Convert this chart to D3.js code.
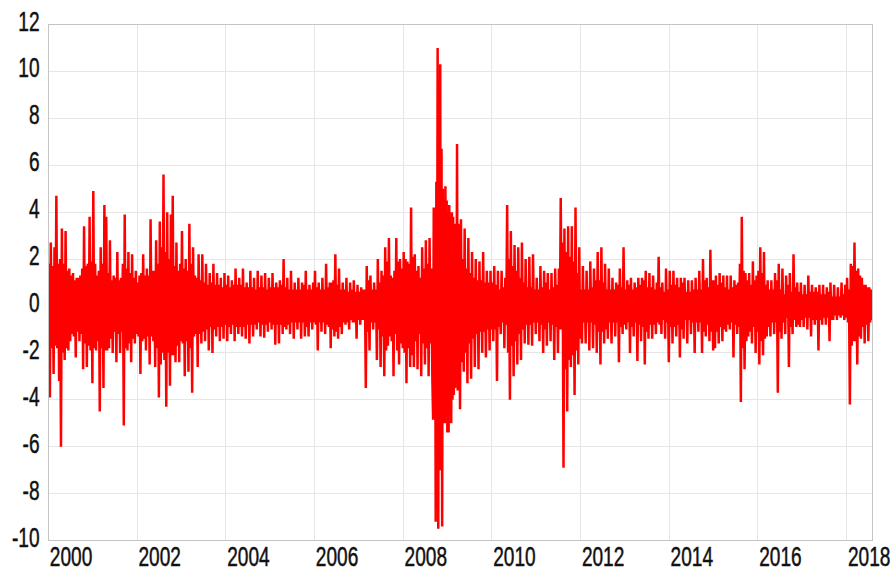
<!DOCTYPE html>
<html><head><meta charset="utf-8">
<script src="https://cdn.jsdelivr.net/npm/d3@7"></script>
<style>body{margin:0;background:#fff}svg{display:block}</style>
</head><body>
<svg id="chart" width="890" height="572"></svg>
<script>
// Tick labels
const yearTicks = [2000, 2002, 2004, 2006, 2008, 2010, 2012, 2014, 2016, 2018];
const valueTicks = [-10, -8, -6, -4, -2, 0, 2, 4, 6, 8, 10, 12];

// Daily returns: the spike (extreme) in each half-month, 24 per year
const r2000 = [-3.9, 2.7, -2.9, 2.5, 4.7, -3.2, -6.0, 3.3, -2.3, 3.2, -1.9, 1.6, -1.2, 1.4, -2.2, 1.2, -1.5, 1.3, -2.7, 3.4, -2.6, 1.8, 3.8, -3.3];
const r2001 = [4.9, -1.9, 1.3, -4.5, 2.5, -3.5, 4.3, 3.8, -1.8, 2.8, -2.0, 1.3, -2.4, 2.3, -2.0, 1.2, -5.1, 3.9, -1.9, 2.3, -2.4, 2.2, -1.6, 1.5];
const r2002 = [1.0, -2.9, -1.5, 2.2, -1.9, 1.6, -2.5, 3.7, 1.5, -2.6, 2.8, -3.9, 3.6, -2.0, 5.6, -4.3, 4.0, -3.4, 3.9, 4.7, -2.4, 2.7, -2.4, 1.8];
const r2003 = [3.2, -3.0, 2.0, -2.8, 3.5, -3.7, 2.5, -1.2, -2.6, 2.2, -1.6, 2.2, -1.5, 1.8, -1.9, 1.4, -2.0, 1.8, -1.3, 1.4, -1.5, 1.2, -1.4, 1.4];
const r2004 = [-1.5, 1.3, -1.2, 1.1, -1.5, 1.6, -1.2, 1.2, -1.3, 1.6, -1.4, 1.0, -1.6, 1.5, -1.3, 1.2, -1.0, 1.5, -1.3, 1.3, -1.35, 1.4, -1.1, 1.2];
const r2005 = [-1.0, 1.4, -1.65, 1.0, -1.6, 1.1, -1.2, 2.0, -1.0, 1.2, -1.2, 1.5, -1.4, 1.0, -1.0, 1.2, -1.4, 1.0, -1.3, 1.5, -1.3, 0.9, -1.0, 1.0];
const r2006 = [1.5, -1.9, 1.0, -1.1, 1.2, -1.2, 1.8, -0.9, -1.8, 1.0, -1.3, 2.2, -1.4, 1.6, -1.2, 1.0, -0.8, 1.2, -1.0, 1.0, -0.7, 1.1, -1.4, 0.9];
const r2007 = [-0.8, 0.8, -0.6, -3.5, 1.7, -1.9, 1.3, -1.0, 1.0, -2.3, 2.0, -2.6, 1.5, -3.0, 2.5, -1.7, 2.9, -1.5, -3.0, 1.5, 2.9, -2.5, 2.0, -1.8];
const r2008 = [2.3, -3.3, 1.9, -2.6, 4.2, -2.6, 2.2, -2.7, 1.7, -3.0, 2.5, -2.5, 2.8, -3.0, 2.9, -3.0, null, null, null, null, null, null, null, null];
const r2009 = [null, null, null, null, null, null, -4.4, 3.7, -2.8, 3.3, -3.3, 2.9, -3.1, 2.3, -2.6, 2.0, -2.7, 1.9, -2.0, 2.3, -2.2, 1.5, -1.9, 1.5];
const r2010 = [-1.5, 1.7, -3.2, 1.5, -1.2, 1.5, -1.8, 1.2, 4.3, -4.0, 3.2, -3.0, 2.6, -2.5, 2.5, -2.3, 2.7, -1.6, 2.0, -1.65, 2.1, -1.7, 2.2, -1.2];
const r2011 = [1.2, -1.5, 1.7, -2.0, 1.5, -1.7, 1.4, -1.5, 1.4, -2.3, 1.6, -2.0, 1.6, 4.6, -6.9, 3.3, -4.5, 3.4, -2.6, 3.4, -3.8, 4.2, -2.5, 2.5];
const r2012 = [-1.6, 1.7, -1.6, 1.5, -1.9, 1.9, -1.8, 1.6, -2.0, 2.3, -2.5, 2.5, -1.6, 1.8, -1.4, 1.6, -1.6, 1.2, -1.3, 1.0, -2.4, 1.6, -1.2, 2.5];
const r2013 = [-1.0, 1.1, -2.0, 1.2, -1.3, 1.0, -2.35, 1.2, -1.5, 1.2, -2.5, 1.5, -1.4, 1.4, -1.4, 1.3, -1.2, 1.0, 2.1, -1.2, 1.0, -1.4, 1.6, -2.4];
const r2014 = [1.5, -1.6, 1.5, -1.3, 1.2, -2.2, 1.2, -1.4, 1.2, -1.6, 1.1, -1.2, 1.1, -2.0, 1.2, -1.1, 1.5, -2.0, 2.0, -1.3, 1.2, -1.5, 2.4, -1.9];
const r2015 = [-1.8, 1.3, -1.6, 1.4, -1.5, 1.3, -1.1, 1.3, -1.0, 1.3, -2.2, 1.1, -1.2, 1.0, -4.1, 3.8, -2.7, 1.4, -1.3, 1.4, -1.6, 1.9, -2.0, 1.3];
const r2016 = [-2.5, 2.5, -2.1, 2.3, -1.3, 1.1, -1.3, 1.1, -1.2, 1.4, -3.7, 1.8, -1.4, 1.6, -1.2, 1.3, -2.6, 1.4, -1.2, 2.2, -0.9, 1.0, -0.9, 1.0];
const r2017 = [-0.9, 0.9, -1.0, 1.3, -1.3, 0.9, -0.8, 0.8, -1.9, 0.9, -0.8, 0.9, -0.8, 0.8, -1.5, 1.0, -0.6, 0.9, -0.6, 0.8, -0.5, 1.0, -0.6, 0.9];
const r2018 = [1.2, -4.2, 1.8, -1.5, 2.7, -2.5, 1.6, -1.4, 1.2, -1.6, 0.9, -1.5, 0.8, -0.6];

// Half-width of the solid core band, one value per month
const c2000 = [1.8, 1.7, 1.8, 2.0, 1.8, 1.5, 1.3, 1.1, 1.2, 1.6, 1.7, 1.9];
const c2001 = [1.8, 1.5, 1.8, 1.9, 1.4, 1.1, 1.2, 1.1, 1.8, 1.6, 1.4, 1.2];
const c2002 = [1.3, 1.4, 1.3, 1.3, 1.5, 1.8, 2.5, 2.3, 2.0, 2.1, 1.7, 1.5];
const c2003 = [1.6, 1.5, 1.8, 1.3, 1.2, 1.1, 1.0, 0.9, 1.0, 0.9, 0.9, 0.8];
const c2004 = [0.9, 0.8, 0.9, 0.9, 0.9, 0.8, 0.8, 0.8, 0.7, 0.8, 0.8, 0.7];
const c2005 = [0.8, 0.8, 0.8, 0.9, 0.8, 0.7, 0.7, 0.7, 0.7, 0.9, 0.7, 0.7];
const c2006 = [0.8, 0.7, 0.7, 0.8, 1.0, 1.1, 0.9, 0.7, 0.7, 0.6, 0.7, 0.6];
const c2007 = [0.6, 0.7, 1.1, 0.7, 0.7, 1.0, 1.3, 1.9, 1.3, 1.2, 1.9, 1.6];
const c2008 = [2.0, 1.8, 2.1, 1.5, 1.2, 1.6, 1.8, 1.6, null, null, null, null];
const c2009 = [null, null, null, 2.4, 2.0, 1.6, 1.4, 1.2, 1.1, 1.1, 1.0, 1.0];
const c2010 = [1.0, 0.9, 0.7, 0.8, 2.0, 1.7, 1.5, 1.2, 1.0, 0.8, 0.8, 0.7];
const c2011 = [0.7, 0.8, 1.0, 0.7, 0.8, 0.9, 1.0, 2.7, 2.3, 2.1, 1.9, 1.4];
const c2012 = [0.7, 0.7, 0.7, 0.8, 1.1, 1.1, 1.0, 0.7, 0.7, 0.7, 0.9, 0.8];
const c2013 = [0.7, 0.9, 0.7, 0.8, 0.9, 1.1, 0.8, 0.8, 0.7, 0.8, 0.6, 0.7];
const c2014 = [0.9, 0.9, 0.8, 1.0, 0.6, 0.6, 0.7, 0.7, 0.7, 1.1, 0.8, 1.1];
const c2015 = [1.1, 0.9, 1.0, 0.8, 0.7, 0.8, 0.9, 1.8, 1.5, 1.1, 0.9, 1.1];
const c2016 = [1.5, 1.4, 0.9, 0.7, 0.7, 1.1, 0.7, 0.5, 0.9, 0.6, 0.8, 0.6];
const c2017 = [0.5, 0.5, 0.6, 0.6, 0.6, 0.5, 0.5, 0.6, 0.4, 0.4, 0.4, 0.5];
const c2018 = [0.7, 1.7, 1.5, 1.3, 0.9, 0.8, 0.7];

// Sep 2008 – Mar 2009 crisis, read at a finer step (40 points)
const crisisStart = 2008 + 8 / 12;
const crisisEnd = 2009 + 3 / 12;
const crisisValues = [-4.85, 4.2, -4.0, 4.0, -9.2, 5.3, -4.5, 11.0, -9.5, 4.5,
                      -4.8, 10.3, -7.0, 6.7, -9.4, 5.0, -4.5, 4.5, -5.0, 5.1,
                      -4.5, 4.5, -5.4, 4.0, -5.4, 4.3, -4.0, 3.8, -5.0, 4.0,
                      -4.0, 3.8, -3.8, 3.5, -3.5, 3.5, -3.3, 6.9, -3.6, 3.5];

const spikes = [r2000, r2001, r2002, r2003, r2004, r2005, r2006, r2007, r2008, r2009,
                r2010, r2011, r2012, r2013, r2014, r2015, r2016, r2017, r2018];
const cores = [c2000, c2001, c2002, c2003, c2004, c2005, c2006, c2007, c2008, c2009,
               c2010, c2011, c2012, c2013, c2014, c2015, c2016, c2017, c2018];

// Build the series: in each half-month, the spike and the opposite edge of the core band
const points = [];
spikes.forEach((arr, yi) => {
  arr.forEach((v, j) => {
    if (v === null) return;
    const c = cores[yi][Math.floor(j / 2)];
    const t0 = 2000 + yi + (j + 0.25) / 24, t1 = 2000 + yi + (j + 0.75) / 24;
    if (v >= 0) { points.push({ t: t0, v }); points.push({ t: t1, v: -c }); }
    else { points.push({ t: t0, v: c }); points.push({ t: t1, v }); }
  });
});
const step = (crisisEnd - crisisStart) / crisisValues.length;
crisisValues.forEach((v, w) => points.push({ t: crisisStart + (w + 0.5) * step, v }));
points.sort((a, b) => a.t - b.t);

// Layout
const L = 48.5, R = 872.5, T = 24.5, B = 540.5;
const x = d3.scaleLinear().domain([2000, 2018 + 7 / 12]).range([L, R]);
const y = d3.scaleLinear().domain([-10, 12]).range([B, T]);

const svg = d3.select("#chart");
const FONT = "28px 'Liberation Sans Narrow', 'Arial Narrow', 'Liberation Sans', Arial, sans-serif";

// Horizontal squeeze so that "2000" is ~42px wide, whatever font is found
const probe = svg.append("text").style("font", FONT).text("2000");
const SX = 42.5 / probe.node().getComputedTextLength();
probe.remove();

// Grid
const grid = svg.append("g").attr("shape-rendering", "crispEdges");
grid.selectAll("line.h").data(valueTicks).join("line").attr("class", "h")
  .attr("x1", L).attr("x2", R).attr("y1", d => y(d)).attr("y2", d => y(d))
  .attr("stroke", "#e6e6e6").attr("stroke-width", 1);
grid.selectAll("line.v").data(yearTicks.slice(1)).join("line").attr("class", "v")
  .attr("x1", d => x(d)).attr("x2", d => x(d)).attr("y1", T).attr("y2", B)
  .attr("stroke", "#e6e6e6").attr("stroke-width", 1);

// Series
svg.append("clipPath").attr("id", "clip").append("rect")
  .attr("x", L).attr("y", T).attr("width", R - L).attr("height", B - T);
const line = d3.line().x(d => x(d.t)).y(d => y(d.v));
svg.append("path").datum(points)
  .attr("clip-path", "url(#clip)")
  .attr("d", line)
  .attr("fill", "none").attr("stroke", "#ff0000").attr("stroke-width", 2.5);

// Frame
svg.append("rect").attr("x", L).attr("y", T).attr("width", R - L).attr("height", B - T)
  .attr("fill", "none").attr("stroke", "#c4c4c4").attr("stroke-width", 1)
  .attr("shape-rendering", "crispEdges");

// Y axis
const yAxis = svg.append("g").attr("transform", `translate(${L},0)`)
  .call(d3.axisLeft(y).tickValues(valueTicks).tickSize(0).tickFormat(d => String(d)));
yAxis.select(".domain").remove();
yAxis.selectAll("text")
  .attr("x", -9 / SX).attr("y", 5.5).attr("dy", null)
  .attr("transform", `scale(${SX},1)`)
  .attr("text-anchor", "end")
  .style("font", FONT).attr("fill", "#111")
  .attr("stroke", "#111").attr("stroke-width", 0.5);

// X axis
const xAxis = svg.append("g").attr("transform", `translate(0,${B})`)
  .call(d3.axisBottom(x).tickValues(yearTicks).tickSize(0).tickFormat(d => String(d)));
xAxis.select(".domain").remove();
xAxis.selectAll("text")
  .attr("x", 0.8 / SX).attr("y", 25).attr("dy", null)
  .attr("transform", `scale(${SX},1)`)
  .attr("text-anchor", "start")
  .style("font", FONT).attr("fill", "#111")
  .attr("stroke", "#111").attr("stroke-width", 0.5);
</script>
</body></html>
